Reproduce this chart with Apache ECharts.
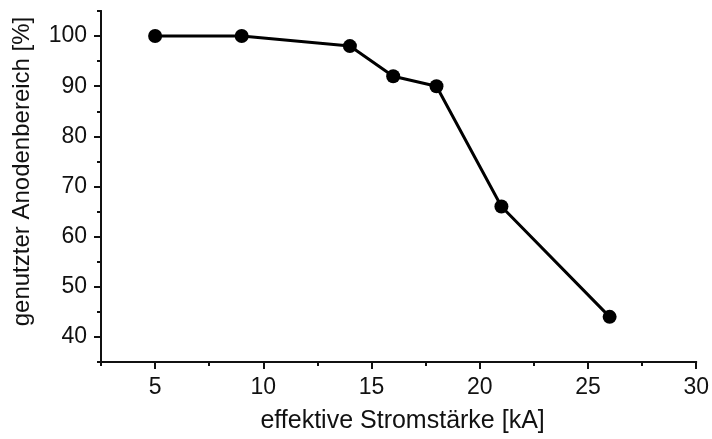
<!DOCTYPE html>
<html><head><meta charset="utf-8">
<script src="https://cdn.jsdelivr.net/npm/echarts@6/dist/echarts.min.js"></script>
<style>html,body{margin:0;padding:0;background:#fff}#c{width:712px;height:439px}</style>
</head><body><div id="c"></div>
<script>
const xValues = [5, 9, 14, 16, 18, 21, 26];
const yValues = [100, 100, 98, 92, 90, 66, 44];
const xMajorTicks = [5, 10, 15, 20, 25, 30];
const xMinorTicks = [2.5, 7.5, 12.5, 17.5, 22.5, 27.5];
const yMajorTicks = [40, 50, 60, 70, 80, 90, 100];
const yMinorTicks = [35, 45, 55, 65, 75, 85, 95, 105];
const xName = 'effektive Stromstärke [kA]';
const yName = 'genutzter Anodenbereich [%]';

const font = 'Liberation Sans, Arial, sans-serif';
const axisColor = '#111';
const chart = echarts.init(document.getElementById('c'));
const baseX = {type:'value', min:2.5, max:30, position:'bottom', splitLine:{show:false},
  axisLine:{show:true, onZero:false, lineStyle:{color:axisColor, width:2}}};
const baseY = {type:'value', min:35, max:105, position:'left', splitLine:{show:false},
  axisLine:{show:true, onZero:false, lineStyle:{color:axisColor, width:2}}};
chart.setOption({
  animation:false,
  grid:{left:101, right:11, top:11, bottom:76},
  xAxis:[
    Object.assign({}, baseX, {
      name:xName, nameLocation:'middle', nameGap:47,
      nameTextStyle:{fontFamily:font, fontSize:25, color:axisColor, padding:[0,0,0,8]},
      axisTick:{show:true, inside:false, length:7, customValues:xMajorTicks, lineStyle:{color:axisColor, width:2}},
      axisLabel:{show:true, margin:14, customValues:xMajorTicks, fontFamily:font, fontSize:23, color:axisColor}
    }),
    Object.assign({}, baseX, {
      axisTick:{show:true, inside:false, length:4, customValues:xMinorTicks, lineStyle:{color:axisColor, width:2}},
      axisLabel:{show:false}
    })
  ],
  yAxis:[
    Object.assign({}, baseY, {
      name:yName, nameLocation:'middle', nameGap:67, nameRotate:90,
      nameTextStyle:{fontFamily:font, fontSize:24, color:axisColor, padding:[0,0,0,30]},
      axisTick:{show:true, inside:false, length:7, customValues:yMajorTicks, lineStyle:{color:axisColor, width:2}},
      axisLabel:{show:true, margin:14, customValues:yMajorTicks, fontFamily:font, fontSize:23, color:axisColor}
    }),
    Object.assign({}, baseY, {
      axisTick:{show:true, inside:false, length:4, customValues:yMinorTicks, lineStyle:{color:axisColor, width:2}},
      axisLabel:{show:false}
    })
  ],
  series:[{
    type:'line', xAxisIndex:0, yAxisIndex:0,
    data:xValues.map((x,i)=>[x, yValues[i]]),
    symbol:'circle', symbolSize:14,
    lineStyle:{color:'#000', width:3},
    itemStyle:{color:'#000'}
  }]
});
</script></body></html>
